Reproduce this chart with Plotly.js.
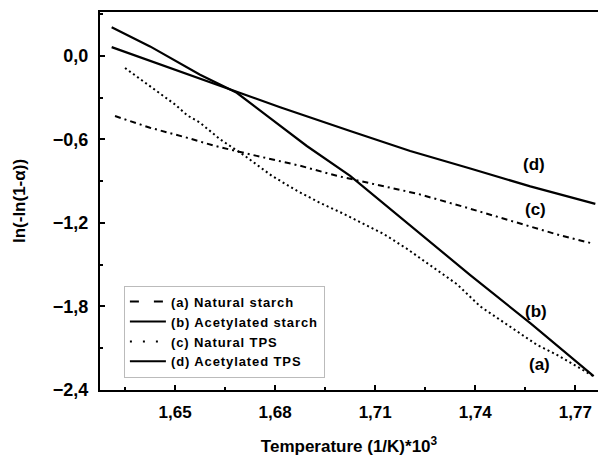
<!DOCTYPE html>
<html>
<head>
<meta charset="utf-8">
<script src="https://cdn.plot.ly/plotly-3.0.1.min.js"></script>
<style>
html,body{margin:0;padding:0;background:#fff;}
#chart{width:598px;height:456px;}
.legendtext{letter-spacing:0.9px;}
</style>
</head>
<body>
<div id="chart"></div>
<script>
// (a) Natural starch
const xA = [1.6350, 1.6408, 1.6465, 1.6500, 1.6537, 1.6575, 1.6635, 1.6710, 1.6790, 1.6865, 1.6935, 1.7000, 1.7065, 1.7125, 1.7195, 1.7275, 1.7345, 1.7415, 1.7525, 1.7585, 1.7645, 1.7715, 1.7754];
const yA = [-0.088, -0.190, -0.290, -0.350, -0.429, -0.481, -0.600, -0.720, -0.862, -0.969, -1.057, -1.129, -1.207, -1.279, -1.386, -1.520, -1.640, -1.800, -1.981, -2.076, -2.148, -2.243, -2.300];
// (b) Acetylated starch
const xB = [1.6310, 1.6425, 1.6575, 1.6685, 1.6785, 1.6895, 1.7025, 1.7205, 1.7385, 1.7565, 1.7755];
const yB = [0.205, 0.067, -0.136, -0.266, -0.448, -0.648, -0.862, -1.218, -1.575, -1.920, -2.300];
// (c) Natural TPS
const xC = [1.6320, 1.6425, 1.6535, 1.6620, 1.6745, 1.6875, 1.6985, 1.7095, 1.7230, 1.7370, 1.7535, 1.7655, 1.7755];
const yC = [-0.433, -0.517, -0.588, -0.648, -0.719, -0.790, -0.862, -0.921, -0.993, -1.088, -1.207, -1.290, -1.350];
// (d) Acetylated TPS
const xD = [1.6310, 1.6425, 1.6635, 1.6815, 1.7025, 1.7205, 1.7385, 1.7565, 1.7760];
const yD = [0.062, -0.037, -0.219, -0.370, -0.540, -0.684, -0.810, -0.938, -1.064];

const legendNames = ['(a) Natural starch', '(b) Acetylated starch', '(c) Natural TPS', '(d) Acetylated TPS'];
const curveLabels = ['(a)', '(b)', '(c)', '(d)'];
const labelX = [1.7592, 1.7583, 1.7580, 1.7577];
const labelY = [-2.214, -1.836, -1.107, -0.779];

const F = 'Arial, "Liberation Sans", sans-serif';

const traces = [
  {x: xA, y: yA, mode: 'lines', line: {color: '#000', width: 2, dash: '2px,3px'}, showlegend: false},
  {x: xB, y: yB, mode: 'lines', line: {color: '#000', width: 2.2}, showlegend: false},
  {x: xC, y: yC, mode: 'lines', line: {color: '#000', width: 2, dash: '6px,4px,2px,4px'}, showlegend: false},
  {x: xD, y: yD, mode: 'lines', line: {color: '#000', width: 2.2}, showlegend: false},
  // legend entries
  {x: [null], y: [null], mode: 'lines', name: legendNames[0], line: {color: '#000', width: 2, dash: '9px,15px'}},
  {x: [null], y: [null], mode: 'lines', name: legendNames[1], line: {color: '#000', width: 2}},
  {x: [null], y: [null], mode: 'lines', name: legendNames[2], line: {color: '#000', width: 2, dash: '2px,11px'}},
  {x: [null], y: [null], mode: 'lines', name: legendNames[3], line: {color: '#000', width: 2}}
];

const annotations = curveLabels.map((t, i) => ({
  x: labelX[i], y: labelY[i], xref: 'x', yref: 'y', text: t, showarrow: false,
  font: {family: F, size: 17, color: '#000', weight: 'bold'}
}));

const layout = {
  width: 598, height: 456,
  margin: {l: 100, r: 0, t: 12, b: 64},
  paper_bgcolor: '#fff', plot_bgcolor: '#fff',
  separators: ',.',
  font: {family: F, color: '#000'},
  xaxis: {
    range: [1.6275, 1.7768], tick0: 1.65, dtick: 0.03, tickformat: '.2f',
    ticks: 'inside', ticklen: 5, tickwidth: 2, tickcolor: '#000',
    minor: {dtick: 0.015, ticks: 'inside', ticklen: 3, tickwidth: 2, tickcolor: '#000'},
    showline: true, linewidth: 2, linecolor: '#000', mirror: true,
    showgrid: false, zeroline: false, automargin: true,
    tickfont: {family: F, size: 17, color: '#000', weight: 'bold'},
    ticklabelstandoff: 6,
    title: {text: 'Temperature (1/K)*10<sup>3</sup>', font: {family: F, size: 17, color: '#000', weight: 'bold'}, standoff: 22}
  },
  yaxis: {
    range: [-2.4, 0.314], tick0: 0, dtick: 0.6, tickformat: '.1f',
    ticks: 'inside', ticklen: 5, tickwidth: 2, tickcolor: '#000',
    minor: {dtick: 0.3, ticks: 'inside', ticklen: 3, tickwidth: 2, tickcolor: '#000'},
    showline: true, linewidth: 2, linecolor: '#000', mirror: false,
    showgrid: false, zeroline: false, automargin: true,
    tickfont: {family: F, size: 18, color: '#000', weight: 'bold'},
    ticklabelstandoff: 6,
    title: {text: 'ln(-ln(1-α))', font: {family: F, size: 17, color: '#000', weight: 'bold'}, standoff: 23}
  },
  legend: {
    x: 0.048, y: 0.276, xanchor: 'left', yanchor: 'top',
    bgcolor: '#fff', bordercolor: '#bbb', borderwidth: 1,
    font: {family: F, size: 13, color: '#000', weight: 'bold'},
    tracegroupgap: 0, itemwidth: 36
  },
  annotations: annotations
};

Plotly.newPlot('chart', traces, layout, {staticPlot: true, displayModeBar: false});
</script>
</body>
</html>
